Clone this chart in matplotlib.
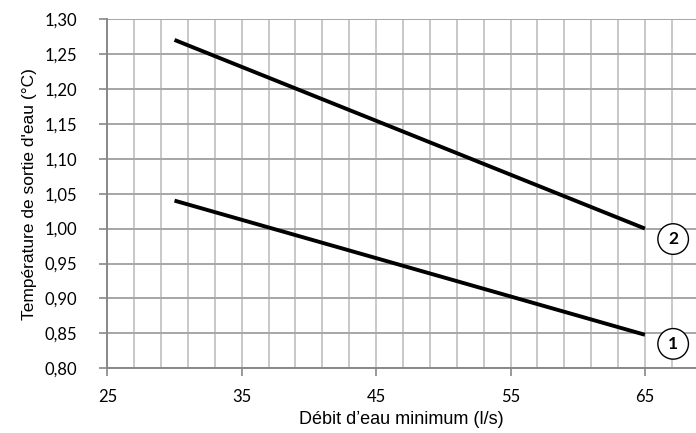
import numpy as np
import matplotlib
matplotlib.use('Agg')
import matplotlib.pyplot as plt

# débit d'eau minimum (l/s) et température de sortie (°C)
debit = [30, 65]
courbe_1 = [1.04, 0.848]
courbe_2 = [1.27, 1.00]
etiquettes = ['1', '2']
pos_etiquettes = [(67.1, 0.835), (67.1, 0.985)]

x_ticks = [25, 35, 45, 55, 65]
y_ticks = [0.80, 0.85, 0.90, 0.95, 1.00, 1.05, 1.10, 1.15, 1.20, 1.25, 1.30]

plt.rcParams['font.family'] = ['Lato', 'DejaVu Sans']

fig = plt.figure(figsize=(6.96, 4.33), dpi=100)
ax = fig.add_axes([0.1542, 0.1494, 0.8458, 0.8068])

ax.set_xlim(25, 68.8)
ax.set_ylim(0.80, 1.30)

# grille verticale tous les 2 l/s, horizontale tous les 0,05
for xv in np.arange(25, 69, 2):
    ax.axvline(xv, color='#c8c8c8', lw=1.4, zorder=1)
for yv in y_ticks:
    ax.axhline(yv, color='#a6a6a6', lw=1.4, zorder=1)

ax.plot(debit, courbe_1, color='black', lw=2.8, solid_capstyle='butt', zorder=3)
ax.plot(debit, courbe_2, color='black', lw=2.8, solid_capstyle='butt', zorder=3)

for txt, (xp, yp) in zip(etiquettes, pos_etiquettes):
    ax.text(xp, yp, txt, ha='center', va='center', fontsize=12.5, fontweight='bold',
            zorder=4, bbox=dict(boxstyle='circle,pad=0.42', fc='white', ec='black', lw=1))

ax.set_xticks(x_ticks)
ax.set_yticks(y_ticks)
ax.set_yticklabels([('%.2f' % v).replace('.', ',') for v in y_ticks])
ax.tick_params(axis='both', labelsize=12, color='#888888', length=6, width=1.2, direction='out')
ax.tick_params(axis='x', pad=9)
ax.tick_params(axis='y', pad=16)

for s in ['top', 'right']:
    ax.spines[s].set_visible(False)
for s in ['left', 'bottom']:
    ax.spines[s].set_color('#888888')
    ax.spines[s].set_linewidth(1.4)

ax.set_xlabel('Débit d’eau minimum (l/s)', fontsize=13, family='Liberation Sans', labelpad=4)
ax.set_ylabel("Température de sortie d'eau (°C)", fontsize=12.5, family='Liberation Sans', labelpad=5)

fig.savefig('out.png', dpi=100)
